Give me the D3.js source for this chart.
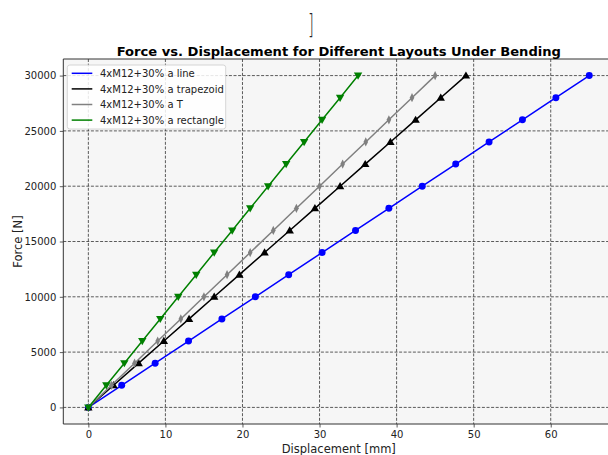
<!DOCTYPE html>
<html>
<head>
<meta charset="utf-8">
<style>
	body { margin: 0; background: #fff; }
	svg { display: block; font-family: "DejaVu Sans", sans-serif; }
	.grid line { stroke: #333; stroke-width: 0.8; stroke-dasharray: 3,1.6; }
</style>
</head>
<body>
<script src="https://cdn.jsdelivr.net/npm/d3@7/dist/d3.min.js"></script>
<script>

// Data
var forces = [0, 2000, 4000, 6000, 8000, 10000, 12000, 14000, 16000, 18000, 20000, 22000, 24000, 26000, 28000, 30000];
var dispLine = [0, 4.33, 8.67, 13.0, 17.33, 21.67, 26.0, 30.33, 34.67, 39.0, 43.33, 47.67, 52.0, 56.33, 60.67, 65.0];
var dispTrapezoid = [0, 3.27, 6.53, 9.8, 13.07, 16.33, 19.6, 22.87, 26.13, 29.4, 32.67, 35.93, 39.2, 42.47, 45.73, 49.0];
var dispT = [0, 3.0, 6.0, 9.0, 12.0, 15.0, 18.0, 21.0, 24.0, 27.0, 30.0, 33.0, 36.0, 39.0, 42.0, 45.0];
var dispRectangle = [0, 2.33, 4.67, 7.0, 9.33, 11.67, 14.0, 16.33, 18.67, 21.0, 23.33, 25.67, 28.0, 30.33, 32.67, 35.0];

var seriesNames = ["4xM12+30% a line", "4xM12+30% a trapezoid", "4xM12+30% a T", "4xM12+30% a rectangle"];
var seriesColors = ["#0000ff", "#000000", "#808080", "#008000"];
var seriesMarkers = ["circle", "triangleUp", "thinDiamond", "triangleDown"];
var seriesDisp = [dispLine, dispTrapezoid, dispT, dispRectangle];

var xTicks = [0, 10, 20, 30, 40, 50, 60];
var yTicks = [0, 5000, 10000, 15000, 20000, 25000, 30000];

// Dimensions (the axes run a little past the right edge, as in the original)
var W = 608, H = 455;
var pLeft = 63.3, pRight = 614.3, pTop = 59, pBottom = 424;

var x = d3.scaleLinear().domain([-3.25, 68.25]).range([pLeft, pRight]);
var y = d3.scaleLinear().domain([-1500, 31500]).range([pBottom, pTop]);

var svg = d3.select("body").append("svg")
	.attr("width", W)
	.attr("height", H);

svg.append("defs").append("clipPath").attr("id", "plotclip")
	.append("rect")
	.attr("x", pLeft).attr("y", pTop)
	.attr("width", pRight - pLeft).attr("height", pBottom - pTop);

// Axes background
svg.append("rect")
	.attr("x", pLeft).attr("y", pTop)
	.attr("width", pRight - pLeft).attr("height", pBottom - pTop)
	.attr("fill", "#f6f6f6");

// Grid
var grid = svg.append("g").attr("class", "grid");
grid.selectAll(".gx").data(xTicks).enter().append("line")
	.attr("x1", function(d) { return x(d); }).attr("x2", function(d) { return x(d); })
	.attr("y1", pTop).attr("y2", pBottom);
grid.selectAll(".gy").data(yTicks).enter().append("line")
	.attr("y1", function(d) { return y(d); }).attr("y2", function(d) { return y(d); })
	.attr("x1", pLeft).attr("x2", pRight);

// Markers
function markerPath(kind) {
	if (kind == "circle") return d3.symbol().type(d3.symbolCircle).size(38)();
	if (kind == "triangleUp") return "M0,-4.2L4.2,3L-4.2,3Z";
	if (kind == "triangleDown") return "M0,4.2L4.2,-3L-4.2,-3Z";
	return "M0,-4.6L2.3,0L0,4.6L-2.3,0Z";
}

var lineGen = d3.line()
	.x(function(d) { return x(d.x); })
	.y(function(d) { return y(d.y); });

var plot = svg.append("g").attr("clip-path", "url(#plotclip)");

seriesNames.forEach(function(name, i) {
	var pts = forces.map(function(f, j) { return {x: seriesDisp[i][j], y: f}; });
	plot.append("path")
		.datum(pts)
		.attr("fill", "none")
		.attr("stroke", seriesColors[i])
		.attr("stroke-width", 1.5)
		.attr("d", lineGen);
	plot.selectAll(".m" + i).data(pts).enter().append("path")
		.attr("transform", function(d) { return "translate(" + x(d.x) + "," + y(d.y) + ")"; })
		.attr("d", markerPath(seriesMarkers[i]))
		.attr("fill", seriesColors[i]);
});

// X-Axis
var xAxis = svg.append("g")
	.attr("transform", "translate(0," + pBottom + ")")
	.call(d3.axisBottom(x).tickValues(xTicks).tickSize(3.5).tickPadding(3.5).tickFormat(d3.format("d")));
xAxis.select(".domain").remove();

// Y-Axis
var yAxis = svg.append("g")
	.attr("transform", "translate(" + pLeft + ",0)")
	.call(d3.axisLeft(y).tickValues(yTicks).tickSize(3.5).tickPadding(3.5).tickFormat(d3.format("d")));
yAxis.select(".domain").remove();

[xAxis, yAxis].forEach(function(a) {
	a.selectAll("text").attr("font-family", "DejaVu Sans").attr("font-size", 10).attr("fill", "#222");
	a.selectAll("line").attr("stroke", "#333").attr("stroke-width", 0.8);
});

// Spines
svg.append("path")
	.attr("d", "M" + W + "," + pTop + "H" + pLeft + "V" + pBottom + "H" + W)
	.attr("fill", "none")
	.attr("stroke", "#333")
	.attr("stroke-width", 1);

// Legend
var legend = svg.append("g").attr("transform", "translate(67.3,65)");
legend.append("rect")
	.attr("width", 158.4).attr("height", 64)
	.attr("rx", 2.5)
	.attr("fill", "#ffffff").attr("fill-opacity", 0.85)
	.attr("stroke", "#cccccc").attr("stroke-width", 0.8);
seriesNames.forEach(function(name, i) {
	var row = legend.append("g").attr("transform", "translate(0," + (8.3 + i * 15.6) + ")");
	row.append("line")
		.attr("x1", 4.4).attr("x2", 25)
		.attr("stroke", seriesColors[i]).attr("stroke-width", 1.5);
	row.append("text")
		.attr("x", 32.7).attr("y", 3.6)
		.attr("font-size", 10).attr("fill", "#222")
		.text(name);
});

// Title
svg.append("text")
	.attr("x", (pLeft + pRight) / 2).attr("y", 55.5)
	.attr("text-anchor", "middle")
	.attr("font-size", 13.1).attr("font-weight", "bold")
	.text("Force vs. Displacement for Different Layouts Under Bending");

// Axis labels
svg.append("text")
	.attr("x", (pLeft + pRight) / 2).attr("y", 453)
	.attr("text-anchor", "middle")
	.attr("font-size", 11.5).attr("fill", "#222")
	.text("Displacement [mm]");

svg.append("text")
	.attr("transform", "translate(21.5," + ((pTop + pBottom) / 2) + ") rotate(-90)")
	.attr("text-anchor", "middle")
	.attr("font-size", 11.5).attr("fill", "#222")
	.text("Force [N]");

// Stray bracket above the title
svg.append("text")
	.attr("transform", "translate(308,33) scale(0.55,1)")
	.attr("font-size", 27).attr("font-weight", 200).attr("fill", "#222")
	.text("]");

</script>
</body>
</html>
